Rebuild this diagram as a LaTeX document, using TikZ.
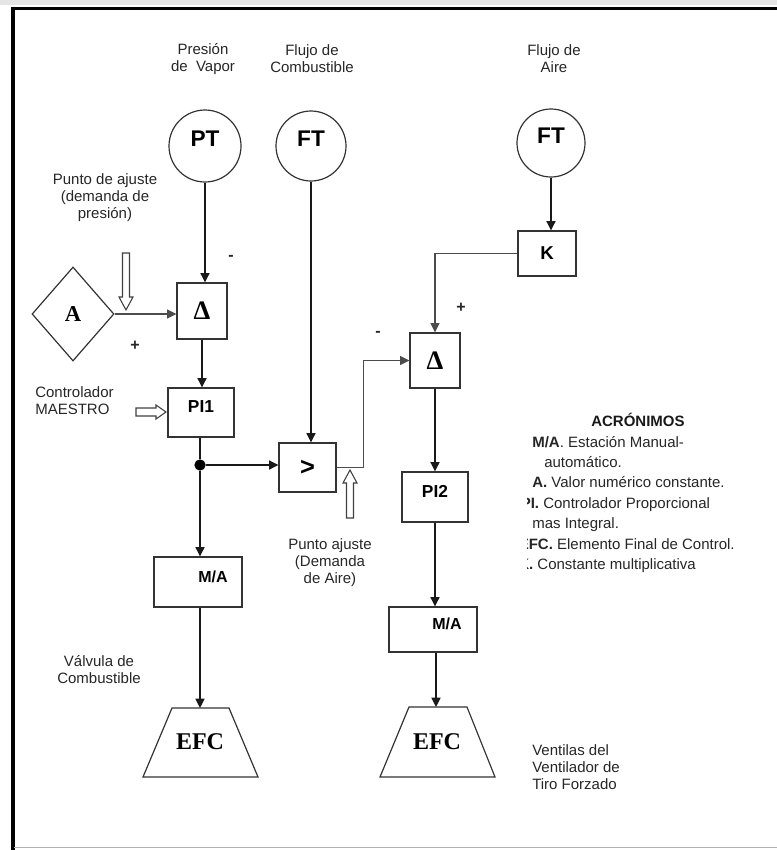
\documentclass[tikz,border=0pt]{standalone}
\usepackage{fontspec}
\setmainfont{Liberation Sans}
\newfontfamily\tnr{Liberation Serif}
\usetikzlibrary{arrows.meta,shapes.geometric}
\begin{document}
\begin{tikzpicture}[x=0.75pt,y=-0.75pt,
  box/.style={draw=black!80, line width=0.9pt, inner sep=0, font=\fontsize{13}{15}\selectfont\bfseries},
  circ/.style={draw=black!80, circle, line width=0.9pt, inner sep=0, font=\fontsize{17}{19}\selectfont\bfseries},
  lbl/.style={align=center, inner sep=0, text=black!85, font=\fontsize{11.25}{12.75}\selectfont},
  sign/.style={inner sep=0, text=black!85, font=\fontsize{12}{14}\selectfont\bfseries},
  acr/.style={anchor=base west, inner sep=0, text=black!85, font=\fontsize{11.25}{13}\selectfont},
  conn/.style={line width=1.1pt, draw=black!90, -{Triangle[length=7pt,width=6.8pt]}},
  gconn/.style={line width=0.9pt, draw=black!70, -{Triangle[length=7pt,width=6.8pt]}},
  hollow/.style={draw=black!75, fill=white, line width=0.8pt},
  trap/.style={draw=black!80, line width=0.9pt},
  efc/.style={inner sep=0, font=\tnr\bfseries\fontsize{18}{20}\selectfont},
  delta/.style={font=\tnr\bfseries\fontsize{20}{22}\selectfont}
  ]
\useasboundingbox (0,0) rectangle (777,850);
% frame
\fill[black!10] (0,0) rectangle (777,4.5);
\draw[line width=3pt] (12.5,850) -- (12.5,8.5);
\draw[line width=2.6pt] (11,8.5) -- (777,8.5);
\draw[black!30, line width=1.2pt] (14,847.5) -- (777,847.5);

% top labels
\node[lbl] (l1) at (203,59) {Presión\\de\ \ Vapor};
\node[lbl] (l2) at (312,59) {Flujo de\\Combustible};
\node[lbl] (l3) at (554,59) {Flujo de\\Aire};

% transmitters
\node[circ, minimum size=54pt] (PT) at (205,146) {\raisebox{0pt}[0pt][0pt]{PT}};
\node[circ, minimum size=52.5pt] (FT1) at (311,146) {\raisebox{0pt}[0pt][0pt]{FT}};
\node[circ, minimum size=51pt] (FT2) at (551,143) {\raisebox{0pt}[0pt][0pt]{FT}};

% left column
\node[lbl] (l4) at (105,198) {Punto de ajuste\\(demanda de\\presión)};
\node[diamond, draw=black!80, line width=0.9pt, minimum width=61.5pt, minimum height=70.5pt, inner sep=0, font=\tnr\bfseries\fontsize{17}{19}\selectfont] (A) at (73,314) {A};
\node[box, delta, minimum width=37.5pt, minimum height=42pt] (D1) at (202,311) {Δ};
\node[box, minimum width=49.5pt, minimum height=36.75pt] (PI1) at (201,412.5) {\raisebox{0pt}[0pt][0pt]{PI1}};
\node[lbl, anchor=west, align=left] (l5) at (35,401) {Controlador\\MAESTRO};
\node[circle, fill=black, inner sep=0, minimum size=8.5pt] (J) at (200,465) {};
\node[box, minimum width=66pt, minimum height=37.5pt, font=\fontsize{12}{14}\selectfont\bfseries] (MA1) at (198,582) {\raisebox{0pt}[0pt][0pt]{\hspace*{22.5pt}M/A}};
\node[lbl] (l7) at (99,670) {Válvula de\\Combustible};
\draw[trap] (172,708) -- (229,708) -- (258,777) -- (143,777) -- cycle;
\coordinate (E1t) at (200,708);
\node[efc] (E1) at (200,742) {EFC};

% middle
\node[box, minimum width=42.75pt, minimum height=36.75pt, font=\fontsize{19}{21}\selectfont\bfseries] (G) at (307.5,467.5) {>};
\node[lbl] (l6) at (330,563) {Punto ajuste\\(Demanda\\de Aire)};

% right column
\node[box, minimum width=43.5pt, minimum height=33.75pt, font=\fontsize{14}{16}\selectfont\bfseries] (K) at (547,253.5) {K};
\node[box, delta, minimum width=37.5pt, minimum height=41.25pt] (D2) at (435,360.5) {Δ};
\node[box, minimum width=49.5pt, minimum height=37.5pt] (PI2) at (435,497) {\raisebox{0pt}[0pt][0pt]{PI2}};
\node[box, minimum width=66pt, minimum height=33.75pt, font=\fontsize{12}{14}\selectfont\bfseries] (MA2) at (433,629.5) {\raisebox{0pt}[0pt][0pt]{\hspace*{21pt}M/A}};
\draw[trap] (409,707) -- (467,707) -- (495,777) -- (380,777) -- cycle;
\coordinate (E2t) at (436,707);
\node[efc] (E2) at (437,742) {EFC};
\node[lbl, anchor=west, align=left] (l8) at (532,767) {Ventilas del\\Ventilador de\\Tiro Forzado};

% signs
\node[sign] (s1) at (231,258) {-};
\node[sign] (s2) at (135,346) {+};
\node[sign] (s3) at (378,334) {-};
\node[sign] (s4) at (461,308) {+};

% connectors
\draw[conn] (PT) -- (PT |- D1.north);
\draw[gconn] (A.east) -- (D1.west |- A.east);
\draw[conn] (D1.south) -- (D1.south |- PI1.north);
\draw[line width=1.1pt, draw=black!90] (PI1.south -| J) -- (J);
\draw[conn] (J) -- (J -| G.west);
\draw[conn] (J) -- (J |- MA1.north);
\draw[conn] (MA1.south -| E1t) -- (E1t);
\draw[conn] (FT1) -- (FT1 |- G.north);
\draw[gconn] (G.east) -- ++(27,0) |- (D2.west);
\draw[conn] (FT2) -- (FT2 |- K.north);
\draw[gconn] (K.west) -| (D2.north);
\draw[conn] (D2.south) -- (PI2.north);
\draw[conn] (PI2.south) -- (PI2.south |- MA2.north);
\draw[conn] (MA2.south -| E2t) -- (E2t);

% hollow arrows
\draw[hollow] (122.5,253) -- (129.5,253) -- (129.5,297) -- (133,297) -- (126,310) -- (119,297) -- (122.5,297) -- cycle;
\draw[hollow] (136,408) -- (156,408) -- (156,405) -- (166,412) -- (156,419) -- (156,416) -- (136,416) -- cycle;
\draw[hollow] (346.5,518) -- (353.5,518) -- (353.5,483) -- (357,483) -- (350,470) -- (343,483) -- (346.5,483) -- cycle;

% acronyms
\node[inner sep=0, text=black!90, font=\fontsize{11.25}{13}\selectfont\bfseries, anchor=base] (ac) at (638,426) {ACRÓNIMOS};
\begin{scope}
\clip (527,430) rectangle (777,580);
\node[acr] (a1) at (532,447) {\textbf{M/A}. Estación Manual-};
\node[acr] (a2) at (544,467) {automático.};
\node[acr] (a3) at (532,487) {\textbf{A.} Valor numérico constante.};
\node[acr] (a4) at (520.5,508) {\textbf{PI.} Controlador Proporcional};
\node[acr] (a5) at (532,528) {mas Integral.};
\node[acr] (a6) at (518.5,549) {\textbf{EFC.} Elemento Final de Control.};
\node[acr] (a7) at (518,569) {\textbf{K.} Constante multiplicativa};
\end{scope}
\end{tikzpicture}
\end{document}
